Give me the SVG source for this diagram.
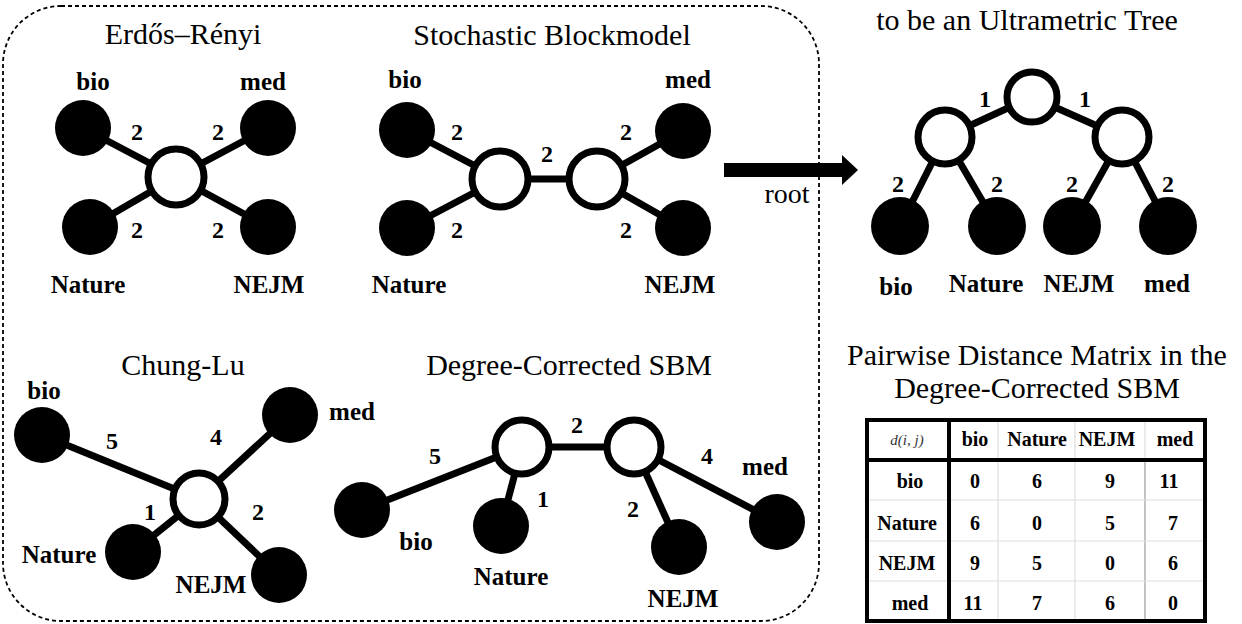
<svg xmlns="http://www.w3.org/2000/svg" width="1242" height="624" viewBox="0 0 1242 624">
<defs>
<style>
text{font-family:"Liberation Serif","DejaVu Serif",serif}
.title{font-size:30px;fill:#000;text-anchor:middle}
.lbl{font-size:25px;font-weight:bold;fill:#000;text-anchor:middle}
.w{font-size:24px;font-weight:bold;fill:#000;text-anchor:middle}
.tb{font-size:20px;font-weight:bold;fill:#000;text-anchor:middle}
.root{font-size:28px;fill:#000;text-anchor:middle}
.dij{font-size:15px;font-style:italic;fill:#333;text-anchor:middle}
.leaf{fill:#000;stroke:none}
.inner{fill:#fff;stroke:#000;stroke-width:7}
.edge{stroke:#000;stroke-width:7;fill:none}
.thin{stroke:#ddd;stroke-width:1.2}
.thick{stroke:#000;stroke-width:4;fill:none}
</style>
<marker id="ah" markerUnits="userSpaceOnUse" markerWidth="18" markerHeight="32" refX="1" refY="15" orient="auto">
<polygon points="0,0 16,15 0,30" fill="#000"/>
</marker>
</defs>
<rect x="3" y="6" width="816" height="615" rx="58" ry="58" fill="none" stroke="#000" stroke-width="1.8" stroke-dasharray="4 3"/>

<g id="connectors">
<line class="edge" x1="176" y1="177" x2="83" y2="128"/>
<line class="edge" x1="176" y1="177" x2="268" y2="128"/>
<line class="edge" x1="176" y1="177" x2="90" y2="227"/>
<line class="edge" x1="176" y1="177" x2="268" y2="227"/>
<line class="edge" x1="500" y1="179" x2="407" y2="130"/>
<line class="edge" x1="500" y1="179" x2="407" y2="228"/>
<line class="edge" x1="500" y1="179" x2="597" y2="179"/>
<line class="edge" x1="597" y1="179" x2="683" y2="131"/>
<line class="edge" x1="597" y1="179" x2="683" y2="228"/>
<line class="edge" x1="1032" y1="97" x2="945" y2="137"/>
<line class="edge" x1="1032" y1="97" x2="1122" y2="137"/>
<line class="edge" x1="945" y1="137" x2="900" y2="226"/>
<line class="edge" x1="945" y1="137" x2="997" y2="226"/>
<line class="edge" x1="1122" y1="137" x2="1072" y2="226"/>
<line class="edge" x1="1122" y1="137" x2="1168" y2="226"/>
<line class="edge" x1="199" y1="499" x2="42" y2="435"/>
<line class="edge" x1="199" y1="499" x2="290" y2="415"/>
<line class="edge" x1="199" y1="499" x2="133" y2="552"/>
<line class="edge" x1="199" y1="499" x2="279" y2="575"/>
<line class="edge" x1="522" y1="447" x2="362" y2="510"/>
<line class="edge" x1="522" y1="447" x2="501" y2="526"/>
<line class="edge" x1="522" y1="447" x2="634" y2="447"/>
<line class="edge" x1="634" y1="447" x2="679" y2="547"/>
<line class="edge" x1="634" y1="447" x2="777" y2="522"/>
<line x1="724" y1="170" x2="843" y2="170" stroke="#000" stroke-width="14" marker-end="url(#ah)"/>
</g>

<g id="edge-labels">
<text class="w" x="137" y="140">2</text>
<text class="w" x="218" y="140">2</text>
<text class="w" x="137" y="238">2</text>
<text class="w" x="218" y="238">2</text>
<text class="w" x="457" y="140">2</text>
<text class="w" x="547" y="162">2</text>
<text class="w" x="626" y="140">2</text>
<text class="w" x="457" y="238">2</text>
<text class="w" x="626" y="238">2</text>
<text class="w" x="985" y="107">1</text>
<text class="w" x="1085" y="107">1</text>
<text class="w" x="898" y="192">2</text>
<text class="w" x="997" y="192">2</text>
<text class="w" x="1072" y="192">2</text>
<text class="w" x="1168" y="192">2</text>
<text class="w" x="112" y="449">5</text>
<text class="w" x="216" y="445">4</text>
<text class="w" x="150" y="520">1</text>
<text class="w" x="258" y="520">2</text>
<text class="w" x="435" y="464">5</text>
<text class="w" x="577" y="433">2</text>
<text class="w" x="543" y="507">1</text>
<text class="w" x="633" y="517">2</text>
<text class="w" x="707" y="464">4</text>
<text class="root" x="787" y="203">root</text>
</g>

<g id="erdos-renyi">
<text class="title" x="183" y="44">Erdős–Rényi</text>
<g id="er-bio"><circle class="leaf" cx="83" cy="128" r="28"/><text class="lbl" x="93" y="90">bio</text></g>
<g id="er-med"><circle class="leaf" cx="268" cy="128" r="28"/><text class="lbl" x="263" y="90">med</text></g>
<g id="er-nature"><circle class="leaf" cx="90" cy="227" r="28"/><text class="lbl" x="88" y="293">Nature</text></g>
<g id="er-nejm"><circle class="leaf" cx="268" cy="227" r="28"/><text class="lbl" x="269" y="293">NEJM</text></g>
<g id="er-c"><circle class="inner" cx="176" cy="177" r="28"/></g>
</g>

<g id="sbm">
<text class="title" x="552" y="45">Stochastic Blockmodel</text>
<g id="sbm-bio"><circle class="leaf" cx="407" cy="130" r="28"/><text class="lbl" x="405" y="88">bio</text></g>
<g id="sbm-nature"><circle class="leaf" cx="407" cy="228" r="28"/><text class="lbl" x="409" y="293">Nature</text></g>
<g id="sbm-med"><circle class="leaf" cx="683" cy="131" r="28"/><text class="lbl" x="688" y="88">med</text></g>
<g id="sbm-nejm"><circle class="leaf" cx="683" cy="228" r="28"/><text class="lbl" x="680" y="293">NEJM</text></g>
<g id="sbm-c1"><circle class="inner" cx="500" cy="179" r="28"/></g>
<g id="sbm-c2"><circle class="inner" cx="597" cy="179" r="28"/></g>
</g>

<g id="tree">
<text class="title" x="1027" y="30">to be an Ultrametric Tree</text>
<g id="t-root"><circle class="inner" cx="1032" cy="97" r="25"/></g>
<g id="t-left"><circle class="inner" cx="945" cy="137" r="27"/></g>
<g id="t-right"><circle class="inner" cx="1122" cy="137" r="27"/></g>
<g id="t-bio"><circle class="leaf" cx="900" cy="226" r="29"/><text class="lbl" x="896" y="295">bio</text></g>
<g id="t-nature"><circle class="leaf" cx="997" cy="226" r="29"/><text class="lbl" x="986" y="292">Nature</text></g>
<g id="t-nejm"><circle class="leaf" cx="1072" cy="226" r="29"/><text class="lbl" x="1079" y="292">NEJM</text></g>
<g id="t-med"><circle class="leaf" cx="1168" cy="226" r="29"/><text class="lbl" x="1167" y="292">med</text></g>
</g>

<g id="chung-lu">
<text class="title" x="183" y="375">Chung-Lu</text>
<g id="cl-bio"><circle class="leaf" cx="42" cy="435" r="28"/><text class="lbl" x="44" y="399">bio</text></g>
<g id="cl-med"><circle class="leaf" cx="290" cy="415" r="28"/><text class="lbl" x="352" y="420">med</text></g>
<g id="cl-nature"><circle class="leaf" cx="133" cy="552" r="28"/><text class="lbl" x="59" y="563">Nature</text></g>
<g id="cl-nejm"><circle class="leaf" cx="279" cy="575" r="28"/><text class="lbl" x="211" y="593">NEJM</text></g>
<g id="cl-c"><circle class="inner" cx="199" cy="499" r="26"/></g>
</g>

<g id="dc-sbm">
<text class="title" x="569" y="375">Degree-Corrected SBM</text>
<g id="dc-bio"><circle class="leaf" cx="362" cy="510" r="28"/><text class="lbl" x="416" y="550">bio</text></g>
<g id="dc-nature"><circle class="leaf" cx="501" cy="526" r="28"/><text class="lbl" x="511" y="585">Nature</text></g>
<g id="dc-nejm"><circle class="leaf" cx="679" cy="547" r="28"/><text class="lbl" x="683" y="607">NEJM</text></g>
<g id="dc-med"><circle class="leaf" cx="777" cy="522" r="28"/><text class="lbl" x="765" y="475">med</text></g>
<g id="dc-c1"><circle class="inner" cx="522" cy="447" r="27"/></g>
<g id="dc-c2"><circle class="inner" cx="634" cy="447" r="27"/></g>
</g>

<g id="matrix">
<text class="title" x="1037" y="365">Pairwise Distance Matrix in the</text>
<text class="title" x="1037" y="398">Degree-Corrected SBM</text>
<line class="thin" x1="998" y1="420" x2="998" y2="621"/>
<line class="thin" x1="1075" y1="420" x2="1075" y2="621"/>
<line class="thin" x1="1145" y1="420" x2="1145" y2="460"/>
<line x1="1145" y1="460" x2="1145" y2="621" stroke="#999" stroke-width="1.2"/>
<line class="thin" x1="867" y1="500" x2="1205" y2="500"/>
<line class="thin" x1="867" y1="541" x2="1205" y2="541"/>
<line class="thin" x1="867" y1="581" x2="1205" y2="581"/>
<line class="thick" x1="949" y1="420" x2="949" y2="621"/>
<line class="thick" x1="867" y1="460" x2="1205" y2="460"/>
<rect class="thick" x="867" y="420" width="338" height="201"/>
<text class="dij" x="907" y="445">d(i, j)</text>
<text class="tb" x="975" y="446">bio</text>
<text class="tb" x="1037" y="446">Nature</text>
<text class="tb" x="1107" y="446">NEJM</text>
<text class="tb" x="1175" y="446">med</text>
<text class="tb" x="910" y="488">bio</text>
<text class="tb" x="975" y="488">0</text>
<text class="tb" x="1037" y="488">6</text>
<text class="tb" x="1110" y="488">9</text>
<text class="tb" x="1169" y="488">11</text>
<text class="tb" x="907" y="530">Nature</text>
<text class="tb" x="975" y="530">6</text>
<text class="tb" x="1037" y="530">0</text>
<text class="tb" x="1110" y="530">5</text>
<text class="tb" x="1173" y="530">7</text>
<text class="tb" x="907" y="570">NEJM</text>
<text class="tb" x="975" y="570">9</text>
<text class="tb" x="1037" y="570">5</text>
<text class="tb" x="1110" y="570">0</text>
<text class="tb" x="1173" y="570">6</text>
<text class="tb" x="910" y="610">med</text>
<text class="tb" x="973" y="610">11</text>
<text class="tb" x="1037" y="610">7</text>
<text class="tb" x="1110" y="610">6</text>
<text class="tb" x="1173" y="610">0</text>
</g>
</svg>
